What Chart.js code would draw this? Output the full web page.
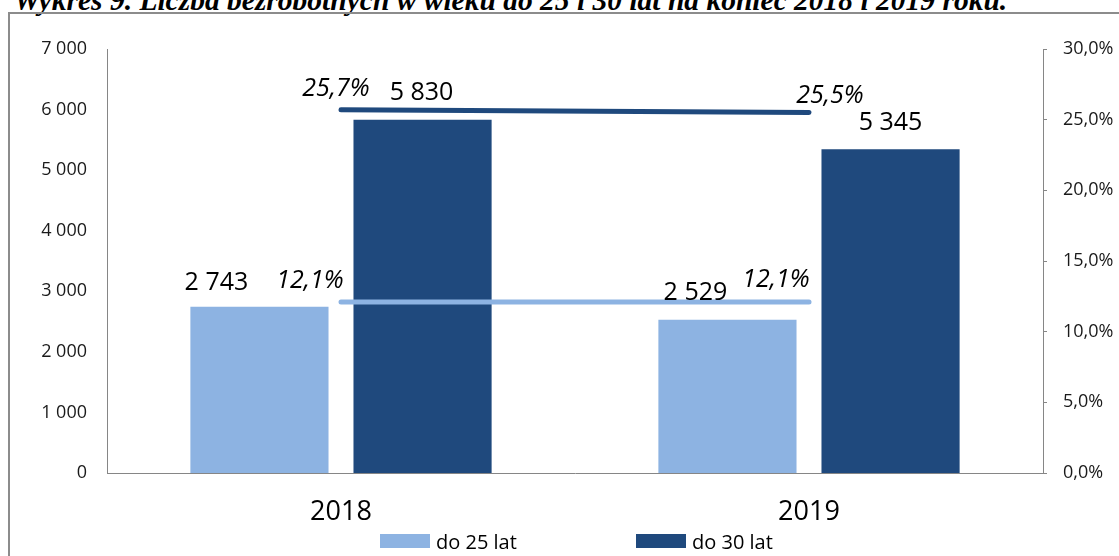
<!DOCTYPE html>
<html>
<head>
<meta charset="utf-8">
<script src="https://cdn.jsdelivr.net/npm/chart.js@4"></script>
<style>
    html, body { margin: 0; padding: 0; background: #fff; }
    body { width: 1119px; height: 556px; position: relative; overflow: hidden; font-family: 'Open Sans', sans-serif; }
    #title {
        position: absolute; left: 14px; top: -15px; white-space: nowrap;
        font: italic bold 29.5px/30px 'Liberation Serif', serif; color: #000;
    }
    #frame {
        position: absolute; left: 8px; top: 12px; width: 1200px; height: 700px;
        border-left: 2px solid #8c8c8c; border-top: 2px solid #8c8c8c;
    }
    #chart-wrap { position: absolute; left: 0; top: 0; width: 1119px; height: 556px; }
    .legend { position: absolute; top: 531px; height: 20px; display: flex; align-items: center; font-size: 20px; color: #000; }
    .legend span.box { display: inline-block; width: 50px; height: 14px; margin-right: 6px; }
</style>
</head>
<body>
<div id="title">Wykres 9. Liczba bezrobotnych w wieku do 25 i 30 lat na koniec 2018 i 2019 roku.</div>
<div id="frame"></div>
<div id="chart-wrap"><canvas id="unemployed-chart" width="1119" height="556"></canvas></div>
<div class="legend" style="left:380px"><span class="box" style="background:#8db3e2"></span>do 25 lat</div>
<div class="legend" style="left:636px"><span class="box" style="background:#1f497d"></span>do 30 lat</div>

<script>
// Dane
const years = ['2018', '2019'];
const under25 = [2743, 2529];
const under30 = [5830, 5345];
const share25 = [12.1, 12.1];   // % udział do 25 lat
const share30 = [25.7, 25.5];   // % udział do 30 lat
const countMax = 7000, countStep = 1000;
const shareMax = 30, shareStep = 5;

const lightBlue = '#8db3e2';
const darkBlue = '#1f497d';
const axisGray = '#868686';

function fmtCount(v) {
    return String(v).replace(/\B(?=(\d{3})+(?!\d))/g, ' ');
}
function fmtShare(v, digits) {
    return v.toFixed(digits).replace('.', ',') + '%';
}

// przesunięcia etykiet danych [dx, dy] względem punktu / szczytu słupka
const labelShift = [
    [[-43, -17], [-32, -20]],
    [[-1, -20], [0, -19]],
    [[-31, -14], [-33, -15]],
    [[-5, -14], [21, -10]]
];

const dataLabels = {
    id: 'dataLabels',
    afterDatasetsDraw(chart) {
        const ctx = chart.ctx;
        ctx.save();
        ctx.fillStyle = '#000';
        ctx.textAlign = 'center';
        ctx.textBaseline = 'alphabetic';
        chart.data.datasets.forEach((ds, i) => {
            const meta = chart.getDatasetMeta(i);
            const isLine = ds.type === 'line';
            ctx.font = (isLine ? 'italic ' : '') + "25px 'Open Sans', sans-serif";
            meta.data.forEach((el, j) => {
                const v = ds.data[j];
                const txt = isLine ? fmtShare(v, 1) : fmtCount(v);
                const s = labelShift[i][j];
                ctx.fillText(txt, el.x + s[0], el.y + s[1]);
            });
        });
        ctx.restore();
    }
};

Chart.defaults.font.family = "'Open Sans', sans-serif";
Chart.defaults.color = '#1a1a1a';

const ctx = document.getElementById('unemployed-chart').getContext('2d');
const chart = new Chart(ctx, {
    type: 'bar',
    data: {
        labels: years,
        datasets: [
            {
                label: 'do 25 lat',
                data: under25,
                backgroundColor: lightBlue,
                yAxisID: 'y',
                order: 2
            },
            {
                label: 'do 30 lat',
                data: under30,
                backgroundColor: darkBlue,
                yAxisID: 'y',
                order: 2
            },
            {
                type: 'line',
                label: 'udział do 25 lat',
                data: share25,
                borderColor: lightBlue,
                borderWidth: 5,
                borderCapStyle: 'round',
                pointRadius: 0,
                yAxisID: 'y1',
                order: 1
            },
            {
                type: 'line',
                label: 'udział do 30 lat',
                data: share30,
                borderColor: darkBlue,
                borderWidth: 5,
                borderCapStyle: 'round',
                pointRadius: 0,
                yAxisID: 'y1',
                order: 1
            }
        ]
    },
    options: {
        responsive: false,
        animation: false,
        categoryPercentage: 0.697,
        barPercentage: 0.847,
        layout: { padding: { top: 49, left: 0, right: 0, bottom: 0 } },
        plugins: {
            legend: { display: false },
            tooltip: { enabled: false }
        },
        scales: {
            x: {
                grid: { display: false, drawTicks: false },
                border: { display: true, color: axisGray, width: 1 },
                ticks: { padding: 23, font: { size: 27 }, color: '#000' },
                afterFit(scale) { scale.height = 83; }
            },
            y: {
                position: 'left',
                min: 0,
                max: countMax,
                grid: { display: false, drawTicks: false },
                border: { display: true, color: axisGray, width: 1 },
                ticks: {
                    stepSize: countStep,
                    padding: 20,
                    font: { size: 18 },
                    callback: v => fmtCount(v)
                },
                afterFit(scale) { scale.width = 107; }
            },
            y1: {
                position: 'right',
                min: 0,
                max: shareMax,
                grid: { display: true, drawOnChartArea: false, drawTicks: true, tickLength: 4, color: axisGray },
                border: { display: true, color: axisGray, width: 1 },
                ticks: {
                    stepSize: shareStep,
                    padding: 16,
                    font: { size: 18 },
                    callback: v => fmtShare(v, 1)
                },
                afterFit(scale) { scale.width = 76; }
            }
        }
    },
    plugins: [dataLabels]
});
</script>
</body>
</html>
